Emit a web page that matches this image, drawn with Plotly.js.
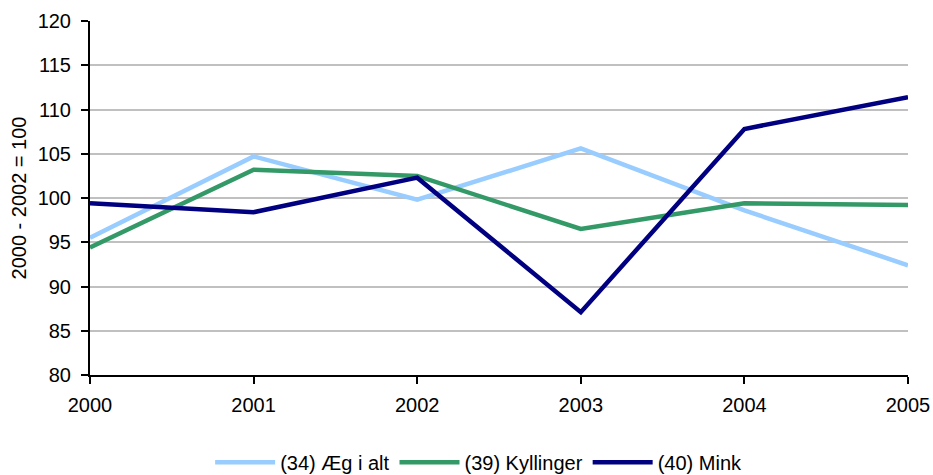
<!DOCTYPE html>
<html>
<head>
<meta charset="utf-8">
<script src="https://cdn.plot.ly/plotly-3.0.1.min.js"></script>
<style>html,body{margin:0;padding:0;background:#fff;}#chart{width:933px;height:475px;}</style>
</head>
<body>
<div id="chart"></div>
<script>
var years = [2000, 2001, 2002, 2003, 2004, 2005];
var seriesNames = ["(34) Æg i alt", "(39) Kyllinger", "(40) Mink"];
var aeg = [95.5, 104.7, 99.8, 105.6, 98.6, 92.4];
var kyllinger = [94.4, 103.2, 102.5, 96.5, 99.4, 99.2];
var mink = [99.4, 98.4, 102.3, 87.1, 107.8, 111.4];
var colors = ["#99CCFF", "#339966", "#000080"];
var yTitle = "2000 - 2002 = 100";

var data = [aeg, kyllinger, mink].map(function (vals, i) {
  return {
    x: years, y: vals, type: "scatter", mode: "lines", name: seriesNames[i],
    line: {color: colors[i], width: 4.5}
  };
});

var layout = {
  width: 933, height: 475,
  margin: {l: 90, r: 25, t: 21, b: 100},
  paper_bgcolor: "#fff", plot_bgcolor: "#fff",
  font: {family: "Liberation Sans, Arial, sans-serif", size: 20, color: "#000"},
  xaxis: {
    range: [2000, 2005], tickvals: years, ticktext: years.map(String),
    showgrid: false, zeroline: false, showline: true, linecolor: "#000", linewidth: 2,
    ticks: "outside", ticklen: 7, tickwidth: 2, tickcolor: "#000",
    tickfont: {size: 20}, ticklabelstandoff: 4, automargin: false
  },
  yaxis: {
    range: [80, 120], dtick: 5, tick0: 80,
    showgrid: true, gridcolor: "#C0C0C0", gridwidth: 2, zeroline: false,
    showline: true, linecolor: "#000", linewidth: 2,
    ticks: "outside", ticklen: 7, tickwidth: 2, tickcolor: "#000",
    tickfont: {size: 20}, ticklabelstandoff: 6, automargin: false,
    title: {text: yTitle, standoff: 6, font: {size: 20}}
  },
  legend: {orientation: "h", x: 0.513, xanchor: "center", xref: "container",
    y: 0.027, yanchor: "middle", yref: "container",
    itemwidth: 60, font: {size: 20}, tracegroupgap: 0, bgcolor: "rgba(0,0,0,0)"},
  showlegend: true
};

Plotly.newPlot("chart", data, layout, {displayModeBar: false, staticPlot: true});
</script>
</body>
</html>
